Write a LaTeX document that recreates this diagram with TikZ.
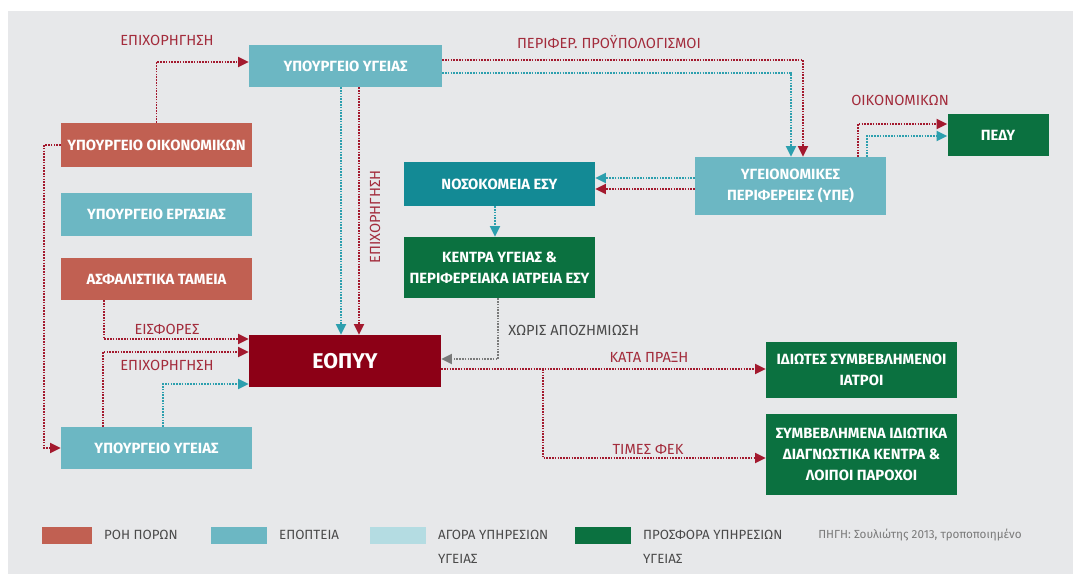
\documentclass[tikz,border=0pt]{standalone}
\usepackage{fontspec}
\setmainfont{Fira Sans}
\usetikzlibrary{arrows.meta}
\definecolor{bg}{HTML}{E7E8EA}
\definecolor{rust}{HTML}{C16052}
\definecolor{teal}{HTML}{6CB7C3}
\definecolor{light}{HTML}{B4DCE2}
\definecolor{green}{HTML}{0B7140}
\definecolor{eopyy}{HTML}{8C0016}
\definecolor{noso}{HTML}{138A95}
\definecolor{flowred}{HTML}{A3192E}
\definecolor{flowteal}{HTML}{2C9FAE}
\definecolor{flowgray}{HTML}{7A7A7A}
\definecolor{lblred}{HTML}{A32C3C}
\definecolor{lgdtext}{HTML}{4A4A4A}

\begin{document}
\begin{tikzpicture}[x=0.75pt, y=-0.75pt,
    box/.style 2 args={minimum width=#1*0.75pt, minimum height=#2*0.75pt, inner sep=0pt,
        align=center, text=white, font=\bfseries\fontsize{11.1}{15.5}\selectfont},
    flow/.style={line width=1.4pt, dash pattern=on 1.2pt off 0.9pt, -{Triangle[length=8pt,width=7.5pt]}},
    money/.style={flow, draw=flowred},
    watch/.style={flow, draw=flowteal},
    nopay/.style={flow, draw=flowgray},
    lbl/.style={text=lblred, inner sep=0pt, font=\fontsize{11}{13}\selectfont},
    lgd/.style={text=lgdtext, inner sep=0pt, align=left, font=\fontsize{10}{18}\selectfont}]
    \useasboundingbox (0,0) rectangle (1073,574);
    \fill[bg] (8,11) rectangle (1073,574);

    \node [box={193}{42}, fill=teal]  (YY)   at (345.5,66)  {ΥΠΟΥΡΓΕΙΟ ΥΓΕΙΑΣ};
    \node [box={191}{44}, fill=rust]  (YO)   at (156.5,145) {ΥΠΟΥΡΓΕΙΟ ΟΙΚΟΝΟΜΙΚΩΝ};
    \node [box={191}{43}, fill=teal]  (YE)   at (156.5,214.5) {ΥΠΟΥΡΓΕΙΟ ΕΡΓΑΣΙΑΣ};
    \node [box={191}{42}, fill=rust]  (AT)   at (156.5,279) {ΑΣΦΑΛΙΣΤΙΚΑ ΤΑΜΕΙΑ};
    \node [box={192}{52}, fill=eopyy, font=\bfseries\fontsize{16}{18}\selectfont] (EO) at (345,361) {ΕΟΠΥΥ};
    \node [box={191}{42}, fill=teal]  (YY2)  at (156.5,448) {ΥΠΟΥΡΓΕΙΟ ΥΓΕΙΑΣ};
    \node [box={191}{44}, fill=noso]  (NS)   at (499.5,184) {ΝΟΣΟΚΟΜΕΙΑ ΕΣΥ};
    \node [box={191}{61}, fill=green] (KY)   at (499.5,267.5) {ΚΕΝΤΡΑ ΥΓΕΙΑΣ \&\\ΠΕΡΙΦΕΡΕΙΑΚΑ ΙΑΤΡΕΙΑ ΕΣΥ};
    \node [box={191}{58}, fill=teal]  (YPE)  at (790.5,186) {ΥΓΕΙΟΝΟΜΙΚΕΣ\\ΠΕΡΙΦΕΡΕΙΕΣ (ΥΠΕ)};
    \node [box={101}{42}, fill=green] (PEDY) at (998,135)   {ΠΕΔΥ};
    \node [box={191}{56}, fill=green] (ID)   at (861.5,370) {ΙΔΙΩΤΕΣ ΣΥΜΒΕΒΛΗΜΕΝΟΙ\\ΙΑΤΡΟΙ};
    \node [box={191}{81}, fill=green] (SD)   at (861.5,454.5) {ΣΥΜΒΕΒΛΗΜΕΝΑ ΙΔΙΩΤΙΚΑ\\ΔΙΑΓΝΩΣΤΙΚΑ ΚΕΝΤΡΑ \&\\ΛΟΙΠΟΙ ΠΑΡΟΧΟΙ};

    \draw [money] (YO.north) |- (YY.west |- 0,62);
    \draw [money] (YY.east |- 0,60) -| (YPE.north -| 803,0);
    \draw [watch] (YY.east |- 0,73) -| (YPE.north -| 791,0);
    \draw [watch] (YY.south -| 341,0) -- (EO.north -| 341,0);
    \draw [money] (YY.south -| 359,0) -- (EO.north -| 359,0);
    \draw [money] (YPE.north -| 858,0) |- (PEDY.west |- 0,124);
    \draw [watch] (YPE.north -| 867,0) |- (PEDY.west |- 0,136);
    \draw [watch] (YPE.west |- 0,178) -- (NS.east |- 0,178);
    \draw [money] (YPE.west |- 0,189) -- (NS.east |- 0,189);
    \draw [watch] (NS.south -| 495,0) -- (KY.north -| 495,0);
    \draw [nopay] (KY.south -| 498,0) |- (EO.east |- 0,359);
    \draw [money] (EO.east |- 0,369) -- (ID.west |- 0,369);
    \coordinate (br) at (543,369);
    \draw [money] (br) |- (SD.west |- 0,458);
    \draw [money] (AT.south -| 104,0) |- (EO.west |- 0,339);
    \draw [money] (YY2.north -| 103,0) |- (EO.west |- 0,352);
    \draw [watch] (YY2.north -| 163,0) |- (EO.west |- 0,384);
    \draw [money] (YO.west) -| (44,300) |- (YY2.west);

    \node [lbl] (l1) at (167,40)  {ΕΠΙΧΟΡΗΓΗΣΗ};
    \node [lbl] (l2) at (609,42)  {ΠΕΡΙΦΕΡ. ΠΡΟΫΠΟΛΟΓΙΣΜΟΙ};
    \node [lbl] (l3) at (900,100) {ΟΙΚΟΝΟΜΙΚΩΝ};
    \node [lbl, rotate=90] (l4) at (375,217) {ΕΠΙΧΟΡΗΓΗΣΗ};
    \node [lbl] (l5) at (167,329) {ΕΙΣΦΟΡΕΣ};
    \node [lbl] (l6) at (167,365) {ΕΠΙΧΟΡΗΓΗΣΗ};
    \node [lbl, text=lgdtext, anchor=west] (l7) at (508,330) {ΧΩΡΙΣ ΑΠΟΖΗΜΙΩΣΗ};
    \node [lbl] (l8) at (649,357) {ΚΑΤΑ ΠΡΑΞΗ};
    \node [lbl] (l9) at (648,449) {ΤΙΜΕΣ ΦΕΚ};

    \foreach \i/\x/\w/\c/\t in {1/42/50/rust/{ΡΟΗ ΠΟΡΩΝ}, 2/211/56/teal/{ΕΠΟΠΤΕΙΑ},
            3/370/56/light/{ΑΓΟΡΑ ΥΠΗΡΕΣΙΩΝ\\ΥΓΕΙΑΣ}, 4/575/56/green/{ΠΡΟΣΦΟΡΑ ΥΠΗΡΕΣΙΩΝ\\ΥΓΕΙΑΣ}} {
        \node [fill=\c, inner sep=0pt, minimum width=\w*0.75pt, minimum height=12.75pt, anchor=west] (L\i) at (\x,535) {};
        \node [lgd, anchor=north west] (T\i) at ([xshift=8.5pt]L\i.east |- 0,530) {\t};
    }
    \node [text=flowgray, inner sep=0pt, anchor=west, font=\fontsize{8.8}{10}\selectfont] (src) at (818,535) {ΠΗΓΗ: Σουλιώτης 2013, τροποποιημένο};
\end{tikzpicture}
\end{document}
